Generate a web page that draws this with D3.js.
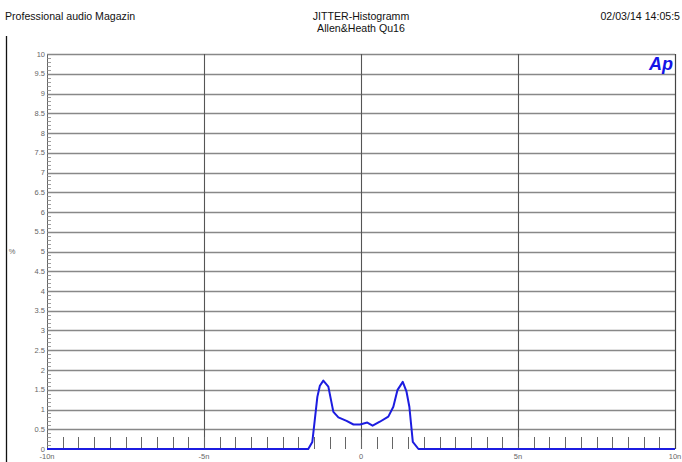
<!DOCTYPE html>
<html><head><meta charset="utf-8">
<script src="https://cdn.jsdelivr.net/npm/d3@7"></script>
<style>body{margin:0;background:#fff}svg{display:block}</style>
</head><body>
<script>
const jitterNs = [-10, -1.68, -1.55, -1.39, -1.31, -1.2, -1.04, -0.88, -0.72, -0.46, -0.24, -0.03, 0.2, 0.37, 0.6, 0.87, 1.03, 1.16, 1.33, 1.45, 1.54, 1.65, 1.83, 10];
const percent  = [0, 0, 0.18, 1.32, 1.6, 1.73, 1.58, 0.94, 0.8, 0.71, 0.62, 0.62, 0.67, 0.59, 0.69, 0.82, 1.07, 1.49, 1.7, 1.45, 1.07, 0.18, 0, 0];
const xTickValues = [-10, -5, 0, 5, 10];
const xTickLabels = ["-10n", "-5n", "0", "5n", "10n"];
const yTickValues = d3.range(0, 10.01, 0.5);
const yTickLabels = ["0","0.5","1","1.5","2","2.5","3","3.5","4","4.5","5","5.5","6","6.5","7","7.5","8","8.5","9","9.5","10"];

const W = 682, H = 462;
const svg = d3.select("body").append("svg").attr("width", W).attr("height", H);
const font = "Liberation Sans, Arial, sans-serif";

const x = d3.scaleLinear().domain([-10, 10]).range([47, 675]);
const y = d3.scaleLinear().domain([0, 10]).range([449, 54]);

// outer frame line at left
svg.append("line").attr("x1", 6.5).attr("x2", 6.5).attr("y1", 36).attr("y2", H).attr("stroke", "#111").attr("stroke-width", 1.3);

// header texts
const hs = 10.6;
svg.append("text").attr("x", 5).attr("y", 20).attr("font-family", font).attr("font-size", hs).attr("fill", "#111").text("Professional audio Magazin");
svg.append("text").attr("x", 361).attr("y", 20).attr("text-anchor", "middle").attr("font-family", font).attr("font-size", hs).attr("fill", "#111").text("JITTER-Histogramm");
svg.append("text").attr("x", 361).attr("y", 32).attr("text-anchor", "middle").attr("font-family", font).attr("font-size", hs).attr("fill", "#111").text("Allen&Heath Qu16");
svg.append("text").attr("x", 680).attr("y", 20).attr("text-anchor", "end").attr("font-family", font).attr("font-size", hs).attr("fill", "#111").text("02/03/14 14:05:5");

// horizontal grid lines
svg.append("g").selectAll("line").data(yTickValues.filter(v => v > 0)).join("line")
  .attr("x1", x(-10)).attr("x2", x(10))
  .attr("y1", d => Math.round(y(d)) + 0.5).attr("y2", d => Math.round(y(d)) + 0.5)
  .attr("stroke", "#888").attr("stroke-width", 1.3);

// vertical grid lines
svg.append("g").selectAll("line").data(xTickValues.filter(v => v > -10 && v < 10)).join("line")
  .attr("x1", d => Math.round(x(d)) + 0.5).attr("x2", d => Math.round(x(d)) + 0.5)
  .attr("y1", y(10)).attr("y2", y(0))
  .attr("stroke", "#555").attr("stroke-width", 1.1);

// right border
svg.append("line").attr("x1", x(10) + 0.5).attr("x2", x(10) + 0.5).attr("y1", y(10)).attr("y2", y(0)).attr("stroke", "#444").attr("stroke-width", 1.2);

// x minor ticks
svg.append("g").selectAll("line").data(d3.range(-9.5, 10, 0.5)).join("line")
  .attr("x1", d => Math.round(x(d)) + 0.5).attr("x2", d => Math.round(x(d)) + 0.5)
  .attr("y1", y(0) - 12).attr("y2", y(0))
  .attr("stroke", "#666").attr("stroke-width", 1);

// y axis line and minor ticks
svg.append("line").attr("x1", x(-10) + 0.5).attr("x2", x(-10) + 0.5).attr("y1", y(10)).attr("y2", y(0)).attr("stroke", "#666");
svg.append("g").selectAll("line").data(d3.range(0, 100.5, 1).map(i => i / 10)).join("line")
  .attr("x1", x(-10)).attr("x2", x(-10) + 4)
  .attr("y1", d => Math.round(y(d)) + 0.5).attr("y2", d => Math.round(y(d)) + 0.5)
  .attr("stroke", "#888").attr("stroke-width", 0.8);

// y labels
svg.append("g").selectAll("text").data(yTickValues).join("text")
  .attr("x", x(-10) - 2).attr("y", d => y(d) + 2.5)
  .attr("text-anchor", "end").attr("font-family", font).attr("font-size", 7.5).attr("fill", "#666")
  .text((d, i) => yTickLabels[i]);

// x labels
svg.append("g").selectAll("text").data(xTickValues).join("text")
  .attr("x", d => x(d)).attr("y", 459)
  .attr("text-anchor", "middle").attr("font-family", font).attr("font-size", 7.5).attr("fill", "#666")
  .text((d, i) => xTickLabels[i]);

// % label
svg.append("text").attr("x", 12).attr("y", 254).attr("text-anchor", "middle").attr("font-family", font).attr("font-size", 7.5).attr("fill", "#666").text("%");

// Ap logo
svg.append("text").attr("x", 673).attr("y", 70).attr("text-anchor", "end").attr("font-family", font)
  .attr("font-size", 18).attr("font-weight", "bold").attr("font-style", "italic").attr("fill", "#1414e6").text("Ap");

// data line
const line = d3.line().x((d, i) => x(jitterNs[i])).y((d, i) => y(percent[i]));
svg.append("path").datum(percent).attr("d", line)
  .attr("fill", "none").attr("stroke", "#1c1ce0").attr("stroke-width", 2).attr("stroke-linejoin", "round");
</script>
</body></html>
